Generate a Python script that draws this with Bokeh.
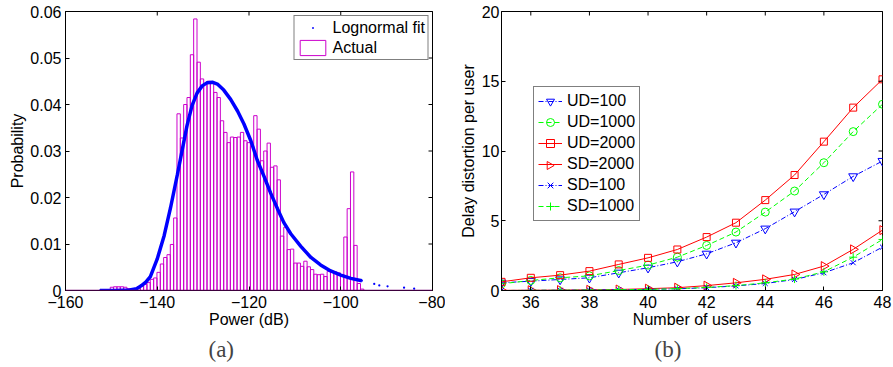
import math
import numpy as np
from bokeh.plotting import figure
from bokeh.models import (Legend, LegendItem, Title, Span, ColumnDataSource,
                          CustomJSTickFormatter, FixedTicker, Range1d)
from bokeh.layouts import row
from bokeh.embed import file_html
from bokeh.resources import INLINE

# ---------------- data: panel (a) ----------------
bin_first_center = -152.79   # dB, centre of first histogram bin
bin_width = 0.7273           # dB
hist_prob = [
    0.0, 0.0, 0.0001, 0.0002, 0.0007, 0.0008, 0.0008, 0.0008, 0.0007, 0.0004,
    0.0003, 0.0004, 0.0008, 0.0012, 0.0013, 0.0017, 0.0024, 0.0027, 0.0039, 0.0057,
    0.0071, 0.0077, 0.0099, 0.0156, 0.0380, 0.0328, 0.0400, 0.0415, 0.0507, 0.0584,
    0.0491, 0.0455, 0.0445, 0.0450, 0.0448, 0.0426, 0.0415, 0.0365, 0.0340, 0.0318,
    0.0330, 0.0329, 0.0330, 0.0340, 0.0322, 0.0318, 0.0310, 0.0376, 0.0347, 0.0279,
    0.0300, 0.0317, 0.0265, 0.0268, 0.0238, 0.0117, 0.0136, 0.0088, 0.0089, 0.0059,
    0.0059, 0.0052, 0.0063, 0.0051, 0.0045, 0.0035, 0.0034, 0.0035, 0.0030, 0.0041,
    0.0042, 0.0040, 0.0038, 0.0034, 0.0115, 0.0176, 0.0255, 0.0097, 0.0015, 0.0003,
]
fit_power = [-152.5, -149.0, -146.0, -144.5, -143.5, -142.5, -141.5, -140.0, -138.5,
             -137.1, -135.6, -134.5, -133.5, -132.4, -131.3, -130.2, -129.1, -128.0,
             -126.9, -125.5, -124.0, -122.5, -121.1, -119.6, -118.2, -116.7, -115.3,
             -113.8, -112.4, -110.9, -108.7, -106.5, -104.4, -102.2, -100.0, -97.8, -95.4]
fit_prob = [0.0, 0.0, 0.0001, 0.0004, 0.0010, 0.0018, 0.0030, 0.0068, 0.0118,
            0.0178, 0.0250, 0.0305, 0.0355, 0.0398, 0.0425, 0.0440, 0.0447, 0.0448,
            0.0444, 0.0431, 0.0411, 0.0386, 0.0358, 0.0322, 0.0280, 0.0245, 0.0210,
            0.0176, 0.0146, 0.0122, 0.0095, 0.0071, 0.0055, 0.0042, 0.0033, 0.0026, 0.0021]
tail_power = [-92.7, -91.6, -89.8, -86.2, -84.0]
tail_prob = [0.0014, 0.0011, 0.0009, 0.0006, 0.0004]

x1_range = (-160, -80)
y1_range = (0, 0.06)
x1_ticks = [-160, -140, -120, -100, -80]
y1_ticks = [0, 0.01, 0.02, 0.03, 0.04, 0.05, 0.06]

# ---------------- data: panel (b) ----------------
users = [35, 36, 37, 38, 39, 40, 41, 42, 43, 44, 45, 46, 47, 48]
ud100 = [0.55, 0.67, 0.79, 0.91, 1.27, 1.63, 2.06, 2.63, 3.42, 4.43, 5.65, 6.89, 8.18, 9.28]
ud1000 = [0.48, 0.72, 0.91, 1.05, 1.43, 1.82, 2.39, 3.23, 4.19, 5.62, 7.13, 9.16, 11.39, 13.35]
ud2000 = [0.62, 0.91, 1.10, 1.39, 1.87, 2.34, 2.94, 3.83, 4.86, 6.48, 8.28, 10.67, 13.11, 15.14]
sd2000 = [0.01, 0.02, 0.03, 0.05, 0.07, 0.13, 0.20, 0.35, 0.55, 0.80, 1.15, 1.75, 2.95, 4.33]
sd100 = [0.0, 0.01, 0.02, 0.03, 0.05, 0.08, 0.12, 0.20, 0.33, 0.50, 0.79, 1.27, 1.99, 3.11]
sd1000 = [0.0, 0.01, 0.02, 0.03, 0.05, 0.08, 0.13, 0.22, 0.35, 0.55, 0.82, 1.34, 2.39, 3.66]
x2_range = (35, 48)
y2_range = (0, 20)
x2_ticks = [36, 38, 40, 42, 44, 46, 48]
y2_ticks = [0, 5, 10, 15, 20]

FONT = "Liberation Sans"
FS = "16px"
SERIF = "Liberation Serif"

# layout (pixels)
W1, W2, H = 445, 448, 367
TOP, BOTTOM = 11, 77
L1, R1 = 65, 13
L2, R2 = 56, 11


def style(p, xr, yr, xt, yt, label_standoff_y, axis_label_standoff_y):
    p.outline_line_color = "black"
    p.outline_line_width = 1
    p.xgrid.visible = False
    p.ygrid.visible = False
    for ax, ticks in ((p.xaxis[0], xt), (p.yaxis[0], yt)):
        ax.ticker = FixedTicker(ticks=ticks)
        ax.major_tick_in = 4
        ax.major_tick_out = 0
        ax.minor_tick_in = 0
        ax.minor_tick_out = 0
        ax.axis_line_color = "black"
        ax.major_label_text_font = FONT
        ax.major_label_text_font_size = FS
        ax.major_label_text_color = "black"
        ax.axis_label_text_font = FONT
        ax.axis_label_text_font_size = FS
        ax.axis_label_text_font_style = "normal"
        ax.axis_label_text_color = "black"
    p.xaxis[0].major_label_standoff = 5
    p.xaxis[0].axis_label_standoff = 0
    p.yaxis[0].major_label_standoff = label_standoff_y
    p.yaxis[0].axis_label_standoff = axis_label_standoff_y
    # mirrored inward ticks on the top and right edges (plus markers clipped by the frame)
    p.scatter(xt, [yr[1]] * len(xt), marker="cross", size=8, line_color="black", line_width=1)
    p.scatter([xr[1]] * len(yt), yt, marker="cross", size=8, line_color="black", line_width=1)


# ---------------- panel (a) ----------------
p1 = figure(width=W1, height=H, x_range=Range1d(*x1_range), y_range=Range1d(*y1_range),
            output_backend="svg", toolbar_location=None,
            min_border_left=L1, min_border_right=R1, min_border_top=TOP, min_border_bottom=BOTTOM,
            x_axis_label="Power (dB)", y_axis_label="Probability")
p1.xaxis[0].formatter = CustomJSTickFormatter(
    code="return tick < 0 ? '\\u2212' + Math.abs(tick) : String(tick);")
p1.yaxis[0].formatter = CustomJSTickFormatter(
    code="return tick === 0 ? '0' : tick.toFixed(2);")

centers = bin_first_center + bin_width * np.arange(len(hist_prob))
bars = p1.quad(left=centers - bin_width / 2, right=centers + bin_width / 2,
               bottom=0, top=hist_prob, fill_alpha=0, line_color="#cc00cc", line_width=1)
p1.add_layout(Span(location=0, dimension="width", line_color="#7a007a", line_width=1.5))
p1.line(fit_power, fit_prob, line_color="#0000ff", line_width=3.5)
dots = p1.scatter(fit_power + tail_power, fit_prob + tail_prob, marker="dot",
                  size=9, line_color="#0000ff", fill_color="#0000ff")
style(p1, x1_range, y1_range, x1_ticks, y1_ticks, 4, 1)

leg1 = Legend(items=[LegendItem(label="Lognormal fit", renderers=[dots]),
                     LegendItem(label="Actual", renderers=[bars])],
              location="top_right", margin=4, padding=2, spacing=1,
              glyph_width=32, glyph_height=19, label_height=19, label_standoff=4,
              border_line_color="black", border_line_width=1.5,
              label_text_font=FONT, label_text_font_size=FS, label_text_color="black",
              background_fill_color="white", background_fill_alpha=1)
p1.add_layout(leg1)
p1.add_layout(Title(text="(a)", align="left", offset=143, text_font=SERIF,
                    text_font_size="23px", text_font_style="normal", standoff=9), "below")

# ---------------- panel (b) ----------------
p2 = figure(width=W2, height=H, x_range=Range1d(*x2_range), y_range=Range1d(*y2_range),
            output_backend="svg", toolbar_location=None,
            min_border_left=L2, min_border_right=R2, min_border_top=TOP, min_border_bottom=BOTTOM,
            x_axis_label="Number of users", y_axis_label="Delay distortion per user")

series = [
    ("UD=100", ud100, "#0000ff", "5 2 1 2", "inverted_triangle", 9, 0.0),
    ("UD=1000", ud1000, "#00ff00", "5 3", "circle", 8, 0.0),
    ("UD=2000", ud2000, "#ff0000", "solid", "square", 7, 0.0),
    ("SD=2000", sd2000, "#ff0000", "solid", "triangle", 9, -math.pi / 2),
    ("SD=100", sd100, "#0000ff", "5 2 1 2", "x", 7, 0.0),
    ("SD=1000", sd1000, "#00ff00", "5 3", "cross", 8, 0.0),
]

# legend geometry (pixels, relative to the frame's bottom-left corner)
LEG_X, LEG_Y, LEG_PAD, LEG_GW, LEG_GH, LEG_SP = 32, 69, 4, 24, 20, 1
frame2_w = W2 - L2 - R2
frame2_h = H - TOP - BOTTOM
leg_h = 2 * LEG_PAD + len(series) * LEG_GH + (len(series) - 1) * LEG_SP

items = []
for idx, (name, vals, col, dash, mk, sz, ang) in enumerate(series):
    src = ColumnDataSource(dict(x=users, y=vals, a=[ang] * len(users)))
    ln = p2.line("x", "y", source=src, line_color=col, line_width=1, line_dash=dash)
    sc = p2.scatter("x", "y", source=src, marker=mk, size=sz, angle="a",
                    angle_units="rad", fill_alpha=0, line_color=col, line_width=1)
    if ang == 0.0:
        items.append(LegendItem(label=name, renderers=[ln, sc]))
    else:
        # legends do not rotate markers: draw the rotated legend marker at the legend glyph spot
        items.append(LegendItem(label=name, renderers=[ln]))
        gx = LEG_X + LEG_PAD + LEG_GW / 2
        gy = LEG_Y + leg_h - (LEG_PAD + idx * (LEG_GH + LEG_SP) + LEG_GH / 2)
        lx = x2_range[0] + gx / frame2_w * (x2_range[1] - x2_range[0])
        ly = y2_range[0] + gy / frame2_h * (y2_range[1] - y2_range[0])
        msrc = ColumnDataSource(dict(x=[lx], y=[ly], a=[ang]))
        p2.scatter("x", "y", source=msrc, marker=mk, size=sz - 1, angle="a",
                   angle_units="rad", fill_alpha=0, line_color=col, line_width=1)
style(p2, x2_range, y2_range, x2_ticks, y2_ticks, 2, 2)

leg2 = Legend(items=items, location=(LEG_X, LEG_Y), padding=LEG_PAD, spacing=LEG_SP,
              glyph_width=LEG_GW, glyph_height=LEG_GH, label_height=LEG_GH, label_standoff=5,
              border_line_color="black", border_line_width=1.5,
              label_text_font=FONT, label_text_font_size=FS, label_text_color="black",
              background_fill_alpha=0)
p2.add_layout(leg2)
p2.add_layout(Title(text="(b)", align="left", offset=153, text_font=SERIF,
                    text_font_size="23px", text_font_style="normal", standoff=9), "below")

layout = row(p1, p2)
open("out.html", "w").write(file_html(layout, INLINE))
